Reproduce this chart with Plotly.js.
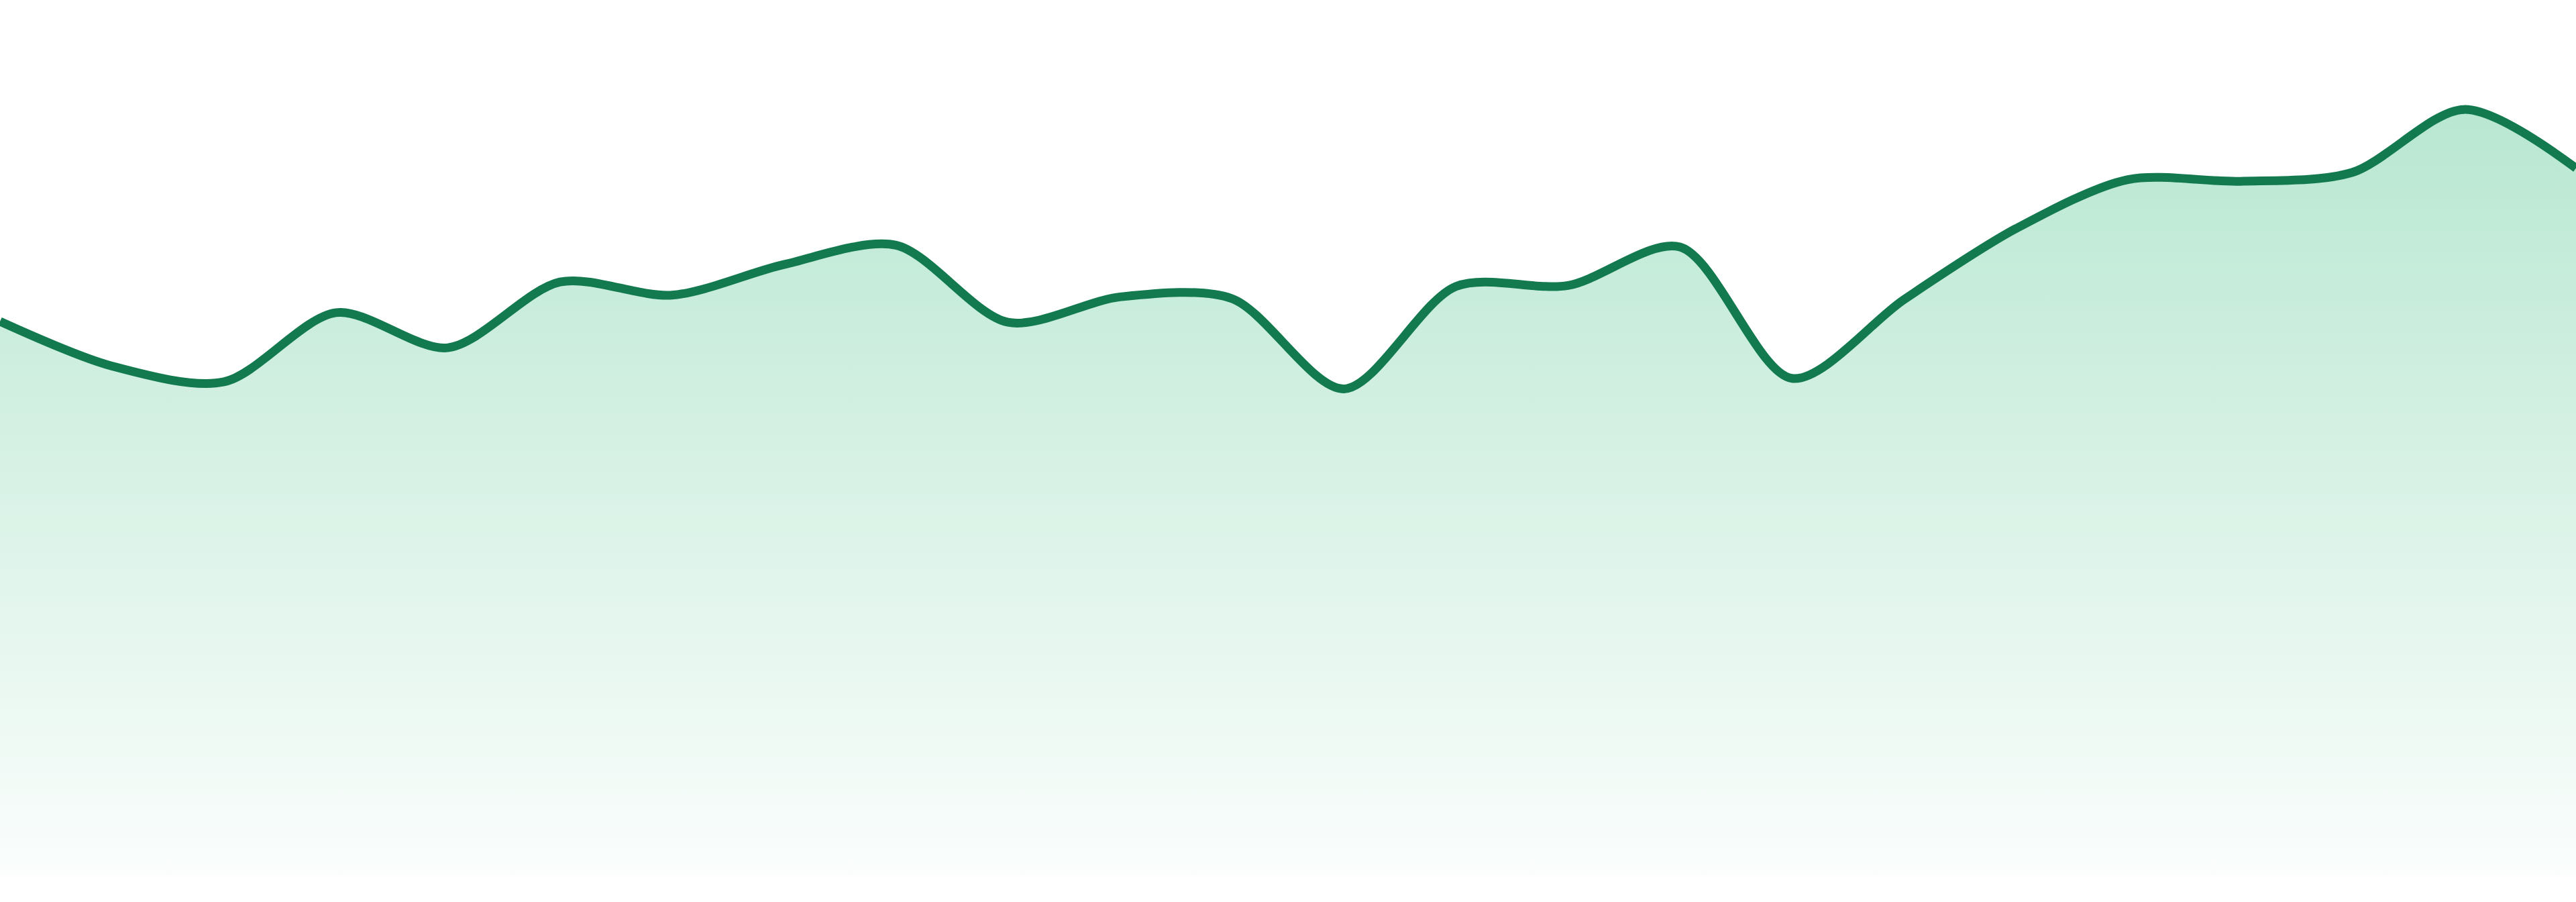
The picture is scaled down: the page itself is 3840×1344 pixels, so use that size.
<!DOCTYPE html>
<html>
<head>
<meta charset="utf-8">
<script src="https://cdn.plot.ly/plotly-3.0.1.min.js"></script>
<style>
  html, body { margin: 0; padding: 0; background: #ffffff; }
  #plot { width: 3840px; height: 1344px; }
</style>
</head>
<body>
<div id="plot"></div>
<script>
const DAYS = [1, 2, 3, 4, 5, 6, 7, 8, 9, 10, 11, 12,
  13, 14, 15, 16, 17, 18, 19, 20, 21, 22, 23, 24];
const VALUES = [63.3, 58.2, 56.4, 64.3, 60.3, 67.8, 66.3, 69.8, 72.0, 63.2, 66.1, 65.9,
  55.6, 67.3, 67.4, 71.8, 56.8, 65.8, 73.9, 79.5, 79.3, 80.3, 87.5, 80.8];

const LINE_COLOR = '#137a4f';

const trace = {
  x: DAYS,
  y: VALUES,
  type: 'scatter',
  mode: 'lines',
  line: {color: LINE_COLOR, width: 13, shape: 'spline', smoothing: 0.85},
  fill: 'tozeroy',
  fillgradient: {
    type: 'vertical',
    start: 0,
    stop: Math.max(...VALUES),
    colorscale: [[0, 'rgba(46,184,120,0.02)'], [1, 'rgba(46,184,120,0.34)']]
  },
  hoverinfo: 'skip'
};

const layout = {
  width: 3840,
  height: 1344,
  margin: {t: 0, b: 39, l: 0, r: 0},
  paper_bgcolor: '#ffffff',
  plot_bgcolor: '#ffffff',
  showlegend: false,
  xaxis: {range: [1, 24], visible: false, fixedrange: true},
  yaxis: {range: [0, 100], visible: false, fixedrange: true}
};

Plotly.newPlot('plot', [trace], layout, {displayModeBar: false, staticPlot: true});
</script>
</body>
</html>
